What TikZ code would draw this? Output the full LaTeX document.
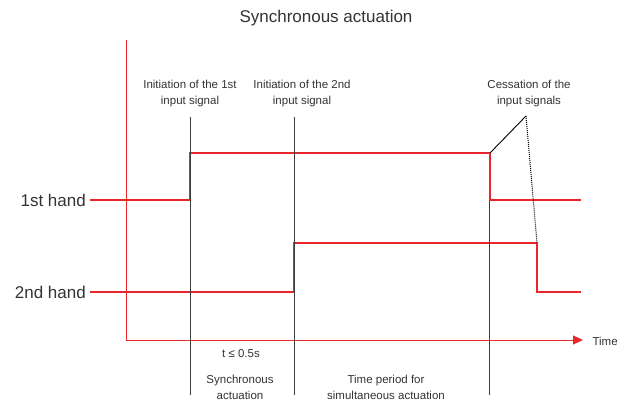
\documentclass[tikz,border=0pt]{standalone}
\usepackage{fontspec}
\setmainfont{Liberation Sans}
\usepackage{tikz}
\usetikzlibrary{arrows.meta}

\definecolor{sigred}{HTML}{E8262D}
\definecolor{txtgray}{HTML}{333333}
\definecolor{markgray}{HTML}{3C3C3C}

\tikzset{
    signal/.style={sigred, line width=1.5pt},
    axisline/.style={sigred, line width=1pt},
    marker/.style={markgray, line width=0.9pt},
    smalltext/.style={txtgray, font=\fontsize{11.5}{16}\selectfont, align=center},
    bigtext/.style={txtgray, font=\fontsize{17}{20}\selectfont}
}

\begin{document}
\begin{tikzpicture}[x=1pt, y=-1pt]
    \useasboundingbox (0,0) rectangle (628,400);

    % Title
    \node[bigtext] (title) at (326,18) {Synchronous actuation};

    % Draw axes
    \coordinate (ytop) at (126,40);
    \coordinate (origin) at (126,340);
    \coordinate (xend) at (583,340);
    \draw[axisline] (ytop) -- (origin);
    \draw[axisline, -{Triangle[length=10pt,width=9pt]}] (origin) -- (xend);
    \node[smalltext, anchor=west] (time) at (589,341) {Time};

    % Hands
    \node[bigtext, anchor=east, inner sep=4pt] (hand1) at (90,200) {1st hand};
    \node[bigtext, anchor=east, inner sep=4pt] (hand2) at (90,292) {2nd hand};

    % Signal 1
    \coordinate (on1low) at (190,200);
    \coordinate (on1high) at (190,153);
    \coordinate (off1high) at (490,153);
    \coordinate (off1low) at (490,200);
    \coordinate (end1) at (581,200);
    \draw[signal, line join=miter] (hand1.east) -- (on1low) -- (on1high)
        -- (off1high) -- (off1low) -- (end1);

    % Signal 2
    \coordinate (on2low) at (294,292);
    \coordinate (on2high) at (294,243);
    \coordinate (off2high) at (537,243);
    \coordinate (off2low) at (537,292);
    \coordinate (end2) at (581,292);
    \draw[signal, line join=miter] (hand2.east) -- (on2low) -- (on2high)
        -- (off2high) -- (off2low) -- (end2);

    % Marker lines
    \foreach \name/\x/\ytop in {mark1/190/117, mark2/294/117, mark3/489/201} {
        \coordinate (\name top) at (\x,\ytop);
        \coordinate (\name bot) at (\x,395);
        \draw[marker] (\name top) -- (\name bot);
    }

    % Labels above
    \node[smalltext] (init1) at (190,94) {Initiation of the 1st\\input signal};
    \node[smalltext] (init2) at (302,94) {Initiation of the 2nd\\input signal};
    \node[smalltext] (cease) at (529,94) {Cessation of the\\input signals};

    % Leader lines
    \coordinate (apex) at (526,116);
    \draw[black, line width=0.9pt] (apex) -- (off1high);
    \draw[black, line width=1pt, densely dotted] (apex) -- (off2high);

    % Labels below
    \node[smalltext] (tmax) at (241,354) {t ≤ 0.5s};
    \node[smalltext] (sync) at (240,387) {Synchronous\\actuation};
    \node[smalltext] (period) at (386,387) {Time period for\\simultaneous actuation};

\end{tikzpicture}
\end{document}
